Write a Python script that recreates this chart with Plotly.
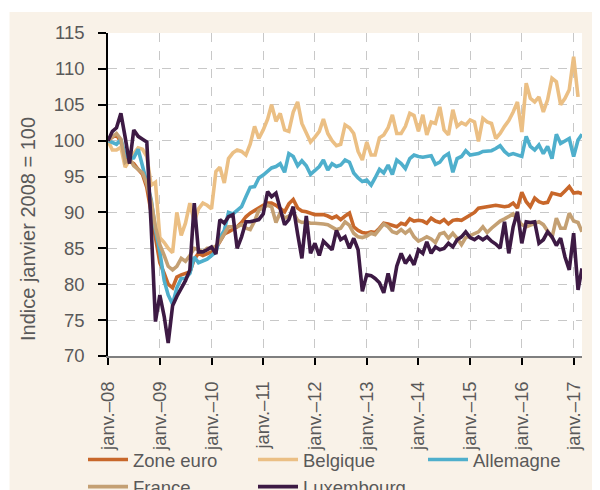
import pandas as pd
import plotly.graph_objects as go

months = pd.date_range("2008-01-01", periods=111, freq="MS")

zone_euro = [
    100, 100.5, 100.8, 99.8, 97.5, 97.2, 96.8, 96, 95.3, 93.5, 90, 86,
    83, 81.5, 80, 79.5, 81, 81.3, 81.5, 81.7, 83.5, 84.3, 84, 84.2,
    84.5, 85, 86, 87, 87.3, 87.6, 88, 88.6, 89.4, 89.9, 90.3, 90.7,
    91, 91.3, 91.3, 91, 90.6, 90.1, 91.2, 91.8, 90.6, 90.2, 90.1, 89.9,
    89.7, 89.7, 89.7, 89.5, 89.2, 89.5, 89, 89.5, 89.9, 88, 87.5, 87.2,
    87.1, 87.3, 87.2, 87.8, 88.5, 88.4, 88.2, 88, 88.5, 88.3, 89.1, 88.8,
    88.9, 88.8, 88.5, 89.2, 88.8, 88.6, 89, 88.4, 88.9, 89, 88.9, 89.3,
    89.6, 90, 90.6, 90.7, 90.8, 90.8, 91, 90.9, 90.8, 90.9, 91.3, 90.6,
    92.8, 91.5, 90.8, 92, 91.5, 91.3, 91.4, 92.7, 92.5, 92.4, 93, 93.6,
    92.7, 92.8, 92.6,
]
belgique = [
    100, 98.7, 98.7, 99.1, 96.3, 97.3, 98.2, 99, 98.8, 97.8, 93.8, 94.2,
    86.5, 85.8, 85, 84.4, 90, 86.8, 88.5, 91.3, 88.7, 90.5, 91.3, 91,
    90.5, 95.7, 96.3, 94.1, 97.5, 98.3, 98.7, 98.5, 98, 99.5, 102, 100.3,
    101.5, 103, 105, 102.7, 103.8, 101.5, 101.3, 104, 105.4, 102.4, 101, 99.8,
    100.5, 101.3, 103, 101, 100, 99.3, 99.5, 102.2, 101.8, 101, 98.5, 97.3,
    99.8, 98, 98, 100.4, 100.8, 101.8, 103.6, 101, 101, 102, 103.8, 103.5,
    101.3, 103.6, 100.8, 102.6, 102.4, 104.7, 101.5, 100.8, 104.3, 102, 102.5, 102.2,
    102.9, 102.6, 99.9, 103.1, 102.6, 102.4, 100.3, 101, 102, 102.8, 104, 105.4,
    101.2, 108, 105.9, 105.4, 106.1, 104, 105.7, 108.7, 108.2, 105, 105.9, 107.1,
    111.7, 106.1,
]
allemagne = [
    100, 99.8, 99.5, 100.2, 98, 97.5, 97.6, 98.8, 96.5, 94.5, 91.8, 87.6,
    84.5, 80.5, 78.5, 77.2, 79.5, 80.8, 80.8, 81.5, 83.8, 83, 83.2, 83.5,
    84, 84.5, 86.5, 87.5, 90, 89.8, 90.3, 90.8, 92.2, 93.5, 93.6, 94.8,
    95.2, 95.8, 96.2, 96.4, 96.8, 95.6, 98.2, 97.8, 96.5, 97.2, 96.5, 95.3,
    95.8, 96.4, 97.3, 95.9, 96.8, 96.4, 96.6, 97.3, 97, 95.5, 94.8, 94.3,
    94.5, 93.8, 94.8, 96, 95.5, 96.6, 95.3, 97.3, 96.8, 96.1, 97.5, 98,
    97.8, 97.7, 97.8, 97.9, 96.7, 97, 97.8, 98.2, 95.6, 97.5, 97.8, 98.6,
    98, 98.1, 98.2, 98.5, 98.5, 98.6, 98.9, 99.3, 98.5, 98, 98.2, 98,
    97.8, 100.6, 99.2, 98.7, 99.4, 98.2, 99.2, 97.5, 100.9, 99.6, 99.9, 100.3,
    97.8, 100.1, 100.9,
]
france = [
    100, 100.5, 101, 100.2, 97, 97.5, 96.5, 96, 95.5, 94, 91.5, 88,
    85.5, 84, 82.5, 82, 82.5, 83.6, 83.2, 84, 85, 84.8, 84.5, 85,
    85, 85.3, 86, 87, 88, 88, 88, 88.3, 87.8, 87.6, 88.8, 90.3,
    90.7, 91, 90.8, 88.6, 90, 89.2, 89.5, 90, 88.9, 88.6, 88.7, 88.5,
    88.5, 88.5, 88.4, 88.3, 88, 87.6, 87.8, 88.7, 88.2, 87.1, 86.6, 86.5,
    86.7, 87.1, 86.9, 87.6, 88.4, 88, 87.3, 87.1, 87.6, 87.1, 87.6, 86.6,
    86, 86.3, 86.6, 86.3, 85.8, 87, 87.2, 86.4, 87.1, 86.4, 85.5, 86.5,
    86.8, 87, 87.3, 88, 87.2, 87.8, 88.3, 88.8, 89.1, 89.4, 89.8, 89,
    88.3, 88, 88.2, 88.4, 88.7, 88.3, 87.3, 86.5, 89.2, 87.8, 87.8, 89.9,
    88.8, 88.6, 87.3,
]
luxembourg = [
    100, 101.3, 101.8, 103.8, 100.5, 96.8, 101.5, 100.6, 100.2, 99.8, 88, 74.8,
    78.5, 75.5, 71.8, 77, 78.3, 79.5, 80.5, 82, 91.3, 84.5, 84.5, 84.8,
    85.2, 84.2, 89, 88.5, 89.4, 89.7, 85, 86.6, 88.7, 88.7, 88.8, 89,
    89.8, 92.9, 92.2, 92.7, 90.5, 88.3, 89, 90.8, 87, 83.6, 89.5, 84.3,
    85.7, 84, 86, 85.3, 84.8, 87.5, 86.2, 86.6, 85, 86.4, 84.8, 79,
    81.3, 81.2, 80.8, 80.2, 78.8, 81.5, 79, 82.5, 84.3, 82.9, 83.8, 82.7,
    84.8, 84.3, 85.9, 84.3, 85.2, 84.8, 85, 85.7, 85.2, 86.2, 86.6, 87.3,
    86.5, 86.2, 86.6, 86.2, 86.6, 86, 85.6, 85, 88.7, 84.3, 88, 90.1,
    85.7, 88.7, 88.6, 88.7, 85.7, 86.2, 87.3, 86.6, 85.4, 86.4, 83.8, 82,
    87.1, 79.2, 82.2,
]

tick_dates = pd.date_range("2008-01-01", "2017-01-01", freq="YS")
tick_labels = ["janv.\u201308", "janv.\u201309", "janv.\u201310", "janv.\u201311",
               "janv.\u201312", "janv.\u201313", "janv.\u201314", "janv.\u201315",
               "janv.\u201316", "janv.\u201317"]
y_ticks = [70, 75, 80, 85, 90, 95, 100, 105, 110, 115]

series = [
    ("Zone euro", zone_euro, "#C8672A"),
    ("Belgique", belgique, "#EBBF84"),
    ("Allemagne", allemagne, "#4FAFCC"),
    ("France", france, "#C4A073"),
    ("Luxembourg", luxembourg, "#3D1A44"),
]

FONT = "Liberation Sans, Arial, sans-serif"
GRAY = "#595959"
CREAM = "#F9F2E8"

ML, MR, MT, MB = 100, 26, 25, 142
PW, PH = 600 - ML - MR, 490 - MT - MB

fig = go.Figure()
for name, vals, col in series:
    fig.add_trace(go.Scatter(
        x=months[:len(vals)], y=vals, name=name, mode="lines",
        line=dict(color=col, width=3.6),
    ))

fig.update_layout(
    width=600, height=490,
    margin=dict(l=ML, r=MR, t=MT, b=MB, autoexpand=False),
    paper_bgcolor=CREAM,
    plot_bgcolor="white",
    font=dict(family=FONT, size=18.5, color=GRAY),
    showlegend=True,
    legend=dict(
        orientation="h", x=(75 - ML) / PW, xanchor="left",
        y=-(433 - PH - MT) / PH, yanchor="top",
        bgcolor="rgba(0,0,0,0)", itemwidth=40, entrywidth=115,
        entrywidthmode="pixels", font=dict(family=FONT, size=18.5, color=GRAY),
        traceorder="normal",
    ),
    xaxis=dict(
        type="date", range=["2008-01-01", "2017-03-01"],
        tickmode="array", tickvals=tick_dates, ticktext=tick_labels,
        tickangle=-90, ticks="outside", ticklen=7, tickwidth=1.5, tickcolor="black",
        showline=True, linecolor="#7F7F7F", linewidth=2,
        showgrid=True, gridcolor="#C8C8C8", gridwidth=1, griddash="dash",
        zeroline=False, tickfont=dict(family=FONT, size=18.5, color=GRAY),
        ticklabelstandoff=9,
    ),
    yaxis=dict(
        range=[70, 115], tickmode="array", tickvals=y_ticks,
        ticks="outside", ticklen=8, tickwidth=1.5, tickcolor="black",
        showline=True, linecolor="black", linewidth=1.5,
        showgrid=True, gridcolor="#C8C8C8", gridwidth=1, griddash="dash",
        zeroline=False, tickfont=dict(family=FONT, size=18.5, color=GRAY),
        ticklabelstandoff=10,
    ),
    shapes=[
        dict(type="rect", xref="paper", yref="paper",
             x0=-0.3, x1=1.2, y0=(PH + MT - 4) / PH, y1=1.3,
             fillcolor="white", line=dict(width=0), layer="below"),
        dict(type="rect", xref="paper", yref="paper",
             x0=-0.3, x1=(1.5 - ML) / PW, y0=-0.6, y1=1.3,
             fillcolor="white", line=dict(width=0), layer="below"),
    ],
    annotations=[
        dict(text="Indice janvier 2008 = 100", xref="paper", yref="paper",
             x=(20 - ML) / PW, y=(PH + MT - 221) / PH, textangle=-90,
             showarrow=False, xanchor="center", yanchor="middle",
             font=dict(family=FONT, size=20, color=GRAY)),
    ],
)

fig.write_html("out.html")
